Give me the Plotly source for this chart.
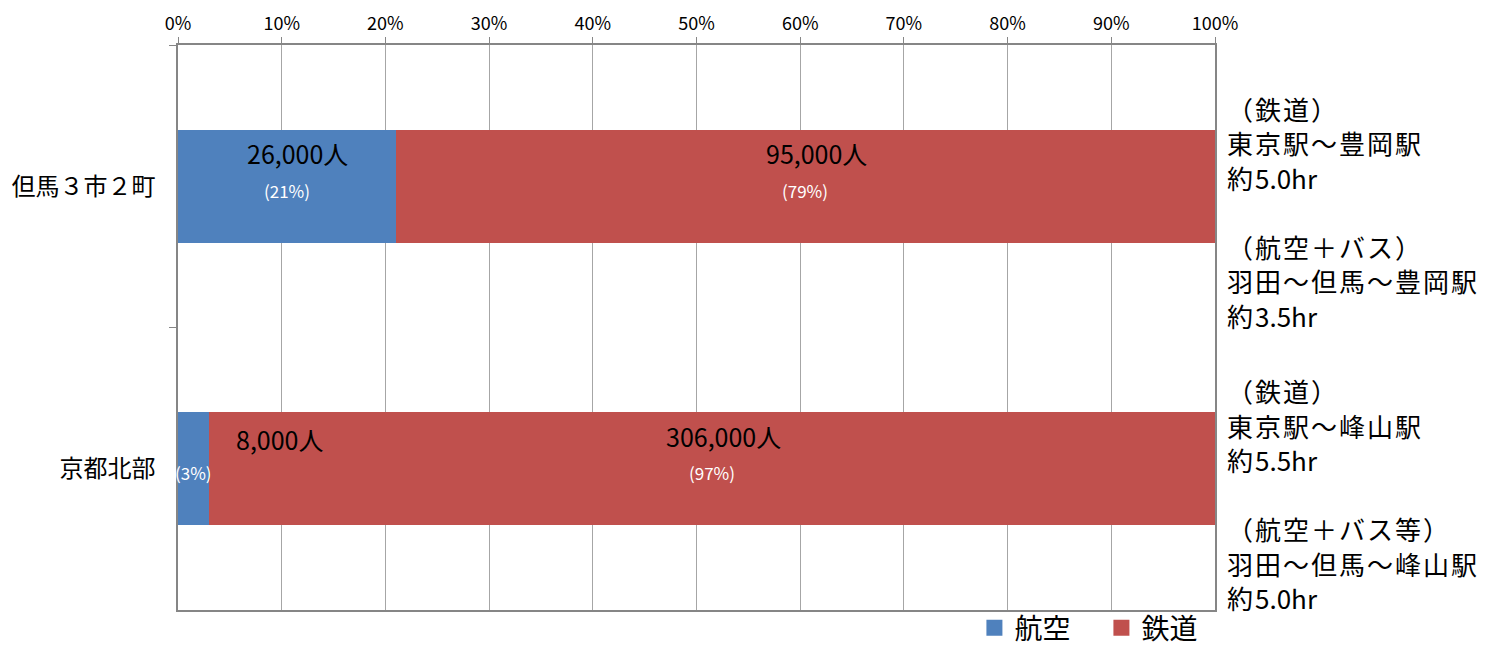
import re
import plotly.graph_objects as go

categories = ["但馬３市２町", "京都北部"]
series_names = ["航空", "鉄道"]
air_people = [26000, 8000]
rail_people = [95000, 306000]
air_pct = [21, 3]
rail_pct = [79, 97]
x_tick_values = [0, 10, 20, 30, 40, 50, 60, 70, 80, 90, 100]
route_notes = [
    ["（鉄道）", "東京駅～豊岡駅", "約5.0hr", "（航空＋バス）", "羽田～但馬～豊岡駅", "約3.5hr"],
    ["（鉄道）", "東京駅～峰山駅", "約5.5hr", "（航空＋バス等）", "羽田～但馬～峰山駅", "約5.0hr"],
]

BLUE = "#4F81BD"
RED = "#C0504D"
FONT = "Noto Sans CJK JP"
colors = [BLUE, RED]


def spaced(text):
    # widen only the full-width (CJK) characters, as in the original
    return re.sub(r"([^\x00-\x7f]+)", r"<span style='letter-spacing:2px'>\1</span>", text)


fig = go.Figure()
for name, vals, col in zip(series_names, [air_pct, rail_pct], colors):
    fig.add_trace(go.Bar(y=categories, x=vals, name=name, orientation="h",
                         marker=dict(color=col, line=dict(width=0)), width=0.4,
                         showlegend=False, hoverinfo="skip"))
for name, col in zip(series_names, colors):
    fig.add_trace(go.Scatter(x=[None], y=[None], mode="markers", name=name,
                             marker=dict(symbol="square", size=16, color=col),
                             showlegend=True))

annotations = []
for i, cat in enumerate(categories):
    segs = [(0, air_pct[i], air_people[i]), (air_pct[i], air_pct[i] + rail_pct[i], rail_people[i])]
    for start, end, people in segs:
        mid = (start + end) / 2
        pct = end - start
        if pct < 10:
            annotations.append(dict(x=end, y=cat, xref="x", yref="y", text=f"{people:,}人",
                                    showarrow=False, xanchor="left", xshift=25, yshift=30,
                                    font=dict(size=25, color="#000000", family=FONT)))
        else:
            annotations.append(dict(x=mid, y=cat, xref="x", yref="y", text=f"{people:,}人",
                                    showarrow=False, xanchor="center", xshift=11, yshift=33,
                                    font=dict(size=25, color="#000000", family=FONT)))
        annotations.append(dict(x=mid, y=cat, xref="x", yref="y", text=f"({pct}%)",
                                showarrow=False, xanchor="center", yshift=-4,
                                font=dict(size=17, color="#FFFFFF", family=FONT)))
    for j, line in enumerate(route_notes[i]):
        k = j if j < 3 else j + 1
        annotations.append(dict(x=1.0, y=cat, xref="paper", yref="y",
                                text=spaced(line),
                                showarrow=False, xanchor="left", yanchor="middle",
                                xshift=10, yshift=78 - 34.5 * k,
                                font=dict(size=26, color="#000000", family=FONT)))

fig.update_layout(
    width=1500, height=653,
    margin=dict(l=178, r=285, t=45, b=43, autoexpand=False),
    paper_bgcolor="white", plot_bgcolor="white",
    barmode="stack",
    showlegend=True,
    legend=dict(orientation="h", x=0.768, y=0.0, xref="paper", yref="container",
                xanchor="left", yanchor="bottom", bgcolor="rgba(0,0,0,0)",
                font=dict(size=28, color="#000000", family=FONT),
                entrywidth=82, entrywidthmode="pixels",
                itemsizing="trace", traceorder="normal"),
    annotations=annotations,
    font=dict(family=FONT),
)
fig.update_xaxes(side="top", range=[0, 100], tickvals=x_tick_values,
                 ticktext=[f"{v}%" for v in x_tick_values],
                 showgrid=True, gridcolor="#A6A6A6", gridwidth=1,
                 showline=True, linecolor="#868686", linewidth=1.5, mirror=True,
                 ticks="outside", ticklen=6, tickcolor="#868686", automargin=False,
                 tickfont=dict(size=18, color="#000000", family=FONT), zeroline=False)
fig.update_yaxes(range=[1.5, -0.5], showgrid=False, type="category",
                 categoryorder="array", categoryarray=categories,
                 showline=True, linecolor="#868686", linewidth=1.5, mirror=True,
                 ticks="outside", tickson="boundaries", ticklen=7, tickcolor="#868686",
                 automargin=False,
                 tickfont=dict(size=24, color="#000000", family=FONT), ticklabelstandoff=16)

fig.write_html("out.html", config={"displayModeBar": False},
               post_script="document.body.style.margin='0';document.body.style.overflow='hidden';")
